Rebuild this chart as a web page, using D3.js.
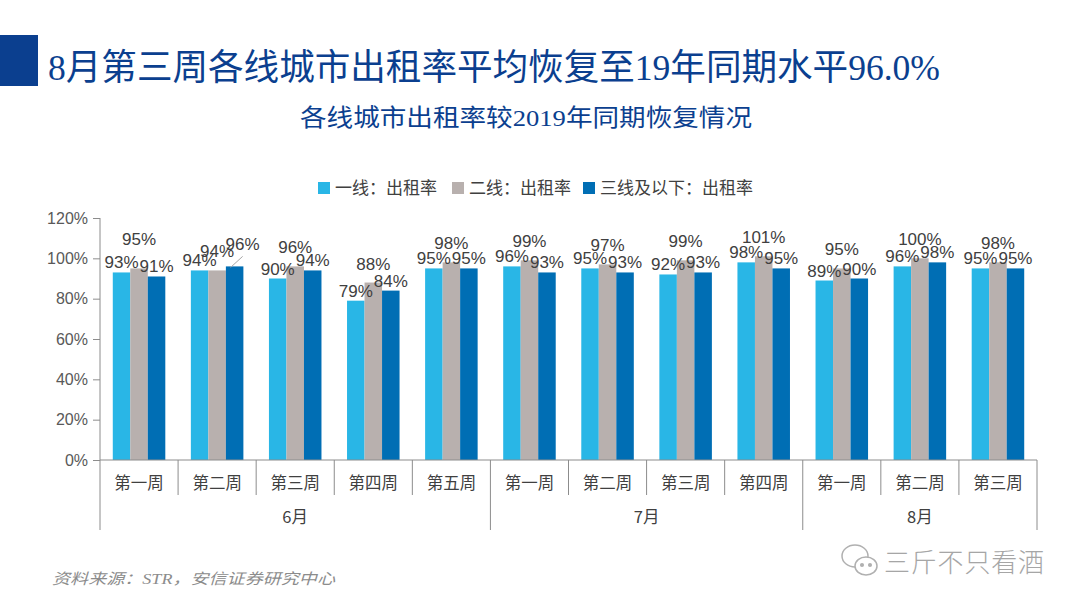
<!DOCTYPE html>
<html>
<head>
<meta charset="utf-8">
<script src="https://cdn.jsdelivr.net/npm/d3@7"></script>
<style>
  body { margin: 0; background: #fff; }
  svg { display: block; }
</style>
</head>
<body>
<div id="chart"></div>
<script>
// data
const months = ['6月', '7月', '8月'];
const weeks = ['第一周', '第二周', '第三周', '第四周', '第五周',
               '第一周', '第二周', '第三周', '第四周',
               '第一周', '第二周', '第三周'];
const weekMonth = [0, 0, 0, 0, 0, 1, 1, 1, 1, 2, 2, 2];
const seriesNames = ['一线：出租率', '二线：出租率', '三线及以下：出租率'];
const tier1 = [93, 94, 90, 79, 95, 96, 95, 92, 98, 89, 96, 95];
const tier2 = [95, 94, 96, 88, 98, 99, 97, 99, 101, 95, 100, 98];
const tier3 = [91, 96, 94, 84, 95, 93, 93, 93, 95, 90, 98, 95];
const yTicks = [0, 20, 40, 60, 80, 100, 120];

const colors = ['#29b6e6', '#b8b0ae', '#006eb4'];
const navy = '#0b3f8f';
const cjk = '"Noto Sans CJK SC", sans-serif';
const latin = '"Liberation Sans", Arial, sans-serif';
const serif = '"Liberation Serif", "Noto Sans CJK SC", serif';

const W = 1080, H = 608;
const margin = {left: 100, right: 43, top: 218, bottom: 148};

const svg = d3.select('#chart').append('svg')
    .attr('width', W)
    .attr('height', H);

// title block
svg.append('rect')
    .attr('x', 0).attr('y', 35)
    .attr('width', 38).attr('height', 51)
    .attr('fill', navy);

svg.append('text')
    .attr('x', 48).attr('y', 80)
    .attr('font-family', serif)
    .attr('font-size', 36)
    .attr('fill', navy)
    .attr('textLength', 892)
    .attr('lengthAdjust', 'spacingAndGlyphs')
    .text('8月第三周各线城市出租率平均恢复至19年同期水平96.0%');

svg.append('text')
    .attr('x', 300).attr('y', 126)
    .attr('font-family', serif)
    .attr('font-size', 24)
    .attr('fill', navy)
    .attr('textLength', 452)
    .attr('lengthAdjust', 'spacingAndGlyphs')
    .text('各线城市出租率较2019年同期恢复情况');

// legend
const legendX = [318, 452, 583];
const legend = svg.append('g');
seriesNames.forEach((name, i) => {
    legend.append('rect')
        .attr('x', legendX[i]).attr('y', 182)
        .attr('width', 12).attr('height', 12)
        .attr('fill', colors[i]);
    legend.append('text')
        .attr('x', legendX[i] + 17).attr('y', 194)
        .attr('font-family', cjk)
        .attr('font-size', 17)
        .attr('fill', '#404040')
        .text(name);
});

// scales
const x0 = d3.scaleBand()
    .domain(d3.range(weeks.length))
    .range([margin.left, W - margin.right]);

const x1 = d3.scaleBand()
    .domain(d3.range(3))
    .range([0, x0.bandwidth()])
    .paddingOuter(0.73);

const y = d3.scaleLinear()
    .domain([0, 120])
    .range([H - margin.bottom - 0, margin.top]);

const plotBottom = y(0);

// y axis
const yAxis = svg.append('g')
    .attr('transform', `translate(${margin.left},0)`)
    .call(d3.axisLeft(y).tickValues(yTicks).tickSize(7).tickPadding(5)
        .tickFormat(d => d + '%'));
yAxis.select('.domain').remove();
yAxis.selectAll('line').attr('stroke', '#8c8c8c');
yAxis.selectAll('text')
    .attr('font-family', latin)
    .attr('font-size', 16)
    .attr('fill', '#595959');

// axis lines
svg.append('line')
    .attr('x1', margin.left).attr('x2', margin.left)
    .attr('y1', margin.top).attr('y2', plotBottom + 70)
    .attr('stroke', '#8c8c8c');

// bars
const series = [tier1, tier2, tier3];
const groups = svg.append('g').selectAll('g')
    .data(weeks.map((w, i) => i))
    .join('g')
    .attr('transform', i => `translate(${x0(i)},0)`);

groups.selectAll('rect')
    .data(i => series.map((s, k) => ({k, v: s[i], i})))
    .join('rect')
    .attr('x', d => x1(d.k))
    .attr('y', d => y(d.v))
    .attr('width', x1.bandwidth())
    .attr('height', d => plotBottom - y(d.v))
    .attr('fill', d => colors[d.k]);

// data labels
const lift = [4, 13, 4];
groups.selectAll('text')
    .data(i => series.map((s, k) => ({k, v: s[i], i})))
    .join('text')
    .attr('x', d => {
        let cx = x1(d.k) + x1.bandwidth() / 2;
        if (d.i === 1 && d.k === 2) cx += 8;
        return cx;
    })
    .attr('y', d => {
        let off = lift[d.k];
        if (d.i === 0 && d.k === 1) off = 23;
        if (d.i === 1 && d.k === 2) off = 16;
        return y(d.v) - off;
    })
    .attr('text-anchor', 'middle')
    .attr('font-family', latin)
    .attr('font-size', 17)
    .attr('fill', '#404040')
    .text(d => d.v + '%');

// leader line for the shifted label
svg.append('line')
    .attr('x1', x0(1) + x1(2) + x1.bandwidth() / 2 - 4)
    .attr('y1', y(tier3[1]) + 1)
    .attr('x2', x0(1) + x1(2) + x1.bandwidth() / 2 + 8)
    .attr('y2', y(tier3[1]) - 10)
    .attr('stroke', '#a6a6a6');

// x axis
svg.append('line')
    .attr('x1', margin.left).attr('x2', W - margin.right)
    .attr('y1', plotBottom).attr('y2', plotBottom)
    .attr('stroke', '#8c8c8c');

// separators between weeks / months
weeks.forEach((w, i) => {
    if (i === 0) return;
    const bx = x0(i);
    const newMonth = weekMonth[i] !== weekMonth[i - 1];
    svg.append('line')
        .attr('x1', bx).attr('x2', bx)
        .attr('y1', plotBottom)
        .attr('y2', plotBottom + (newMonth ? 70 : 35))
        .attr('stroke', '#8c8c8c');
});
svg.append('line')
    .attr('x1', W - margin.right).attr('x2', W - margin.right)
    .attr('y1', plotBottom).attr('y2', plotBottom + 70)
    .attr('stroke', '#8c8c8c');

svg.append('g').selectAll('text')
    .data(weeks)
    .join('text')
    .attr('x', (d, i) => x0(i) + x0.bandwidth() / 2)
    .attr('y', plotBottom + 29)
    .attr('text-anchor', 'middle')
    .attr('font-family', cjk)
    .attr('font-size', 16.5)
    .attr('fill', '#404040')
    .text(d => d);

svg.append('g').selectAll('text')
    .data(months)
    .join('text')
    .attr('x', (m, j) => {
        const idx = weekMonth.map((v, i) => v === j ? i : -1).filter(i => i >= 0);
        return (x0(idx[0]) + x0(idx[idx.length - 1]) + x0.bandwidth()) / 2;
    })
    .attr('y', plotBottom + 63)
    .attr('text-anchor', 'middle')
    .attr('font-family', cjk)
    .attr('font-size', 16.5)
    .attr('fill', '#404040')
    .text(d => d);

// source
svg.append('text')
    .attr('x', 52).attr('y', 584)
    .attr('font-family', serif)
    .attr('font-style', 'italic')
    .attr('font-size', 15)
    .attr('fill', '#8c8c8c')
    .attr('textLength', 283)
    .attr('lengthAdjust', 'spacingAndGlyphs')
    .text('资料来源：STR，安信证券研究中心');

// watermark
const wm = svg.append('g').attr('fill', 'none').attr('stroke', '#b0b0b0').attr('stroke-width', 1.5);
wm.append('ellipse').attr('cx', 855).attr('cy', 556).attr('rx', 13).attr('ry', 11);
wm.append('ellipse').attr('cx', 866).attr('cy', 566).attr('rx', 11).attr('ry', 9).attr('fill', '#fff');
wm.append('circle').attr('cx', 862).attr('cy', 565).attr('r', 1.3).attr('fill', '#b0b0b0');
wm.append('circle').attr('cx', 870).attr('cy', 565).attr('r', 1.3).attr('fill', '#b0b0b0');
svg.append('text')
    .attr('x', 884).attr('y', 572)
    .attr('font-family', cjk)
    .attr('font-size', 26)
    .attr('font-weight', 300)
    .attr('fill', '#a6a6a6')
    .attr('textLength', 160)
    .text('三斤不只看酒');
</script>
</body>
</html>
